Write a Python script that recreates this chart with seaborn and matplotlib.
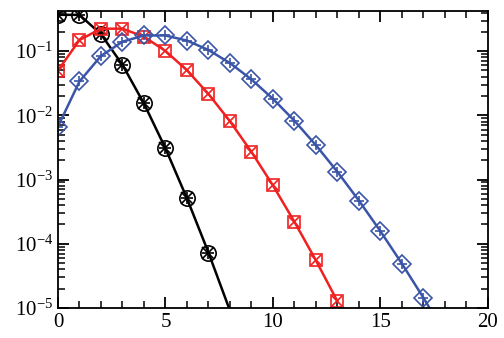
import numpy as np
import pandas as pd
import matplotlib
matplotlib.use("Agg")
import matplotlib.pyplot as plt
import seaborn as sns
from matplotlib.ticker import MultipleLocator, LogLocator, NullFormatter

# values (probabilities vs n)
n_black = [0, 1, 2, 3, 4, 5, 6, 7, 8]
p_black = [0.368, 0.368, 0.184, 0.0613, 0.0153, 0.00307, 0.00051, 0.000073, 0.0000091]

n_red = [0, 1, 2, 3, 4, 5, 6, 7, 8, 9, 10, 11, 12, 13]
p_red = [0.0498, 0.149, 0.224, 0.224, 0.168, 0.1008, 0.0504, 0.0216, 0.0081,
         0.0027, 0.00081, 0.00022, 0.000055, 0.0000127]

n_blue = [0, 1, 2, 3, 4, 5, 6, 7, 8, 9, 10, 11, 12, 13, 14, 15, 16, 17, 18]
p_blue = [0.0067, 0.0337, 0.0842, 0.1404, 0.1755, 0.1755, 0.1462, 0.1044, 0.0653,
          0.0363, 0.0181, 0.00824, 0.00343, 0.00132, 0.00047, 0.000157, 0.000049,
          0.0000144, 0.000004]

sns.set_style("ticks")
plt.rcParams['font.family'] = ['Liberation Serif', 'DejaVu Serif']
plt.rcParams['mathtext.fontset'] = 'stix'

fig = plt.figure(figsize=(5.04, 3.38), dpi=100)
ax = fig.add_axes([0.115, 0.089, 0.853, 0.878])

series = [
    (n_black, p_black, "black", ["o", "+", "x"], 8, 11),
    (n_red, p_red, "#f02020", ["s", "x"], 14, 9),
    (n_blue, p_blue, "#3a55a8", ["D", "+"], 18, 9),
]

for n, p, col, marks, nmark, ms in series:
    df = pd.DataFrame({"n": n, "p": p})
    sns.lineplot(data=df, x="n", y="p", color=col, lw=1.8, ax=ax)
    shown = df.iloc[:nmark]
    for m in marks:
        size = ms if m in ("o", "s", "D") else ms * 0.8
        ax.plot(shown["n"], shown["p"], ls="none", marker=m, ms=size,
                mfc="none", mec=col, mew=1.2)

ax.set_yscale("log")
ax.set_xlim(0, 20)
ax.set_ylim(1e-5, 0.42)
ax.set_xlabel("")
ax.set_ylabel("")

ax.xaxis.set_major_locator(MultipleLocator(5))
ax.xaxis.set_minor_locator(MultipleLocator(1))
ax.yaxis.set_major_locator(LogLocator(base=10, numticks=10))
ax.yaxis.set_minor_locator(LogLocator(base=10, subs=np.arange(2, 10), numticks=20))
ax.yaxis.set_minor_formatter(NullFormatter())

ax.tick_params(which="both", direction="in", top=True, right=True, labelsize=15, colors="black")
ax.tick_params(which="major", length=8, width=1.3)
ax.tick_params(which="minor", length=5, width=1.1)
for s in ax.spines.values():
    s.set_linewidth(1.3)
    s.set_color("black")

fig.savefig("out.png", dpi=100)
